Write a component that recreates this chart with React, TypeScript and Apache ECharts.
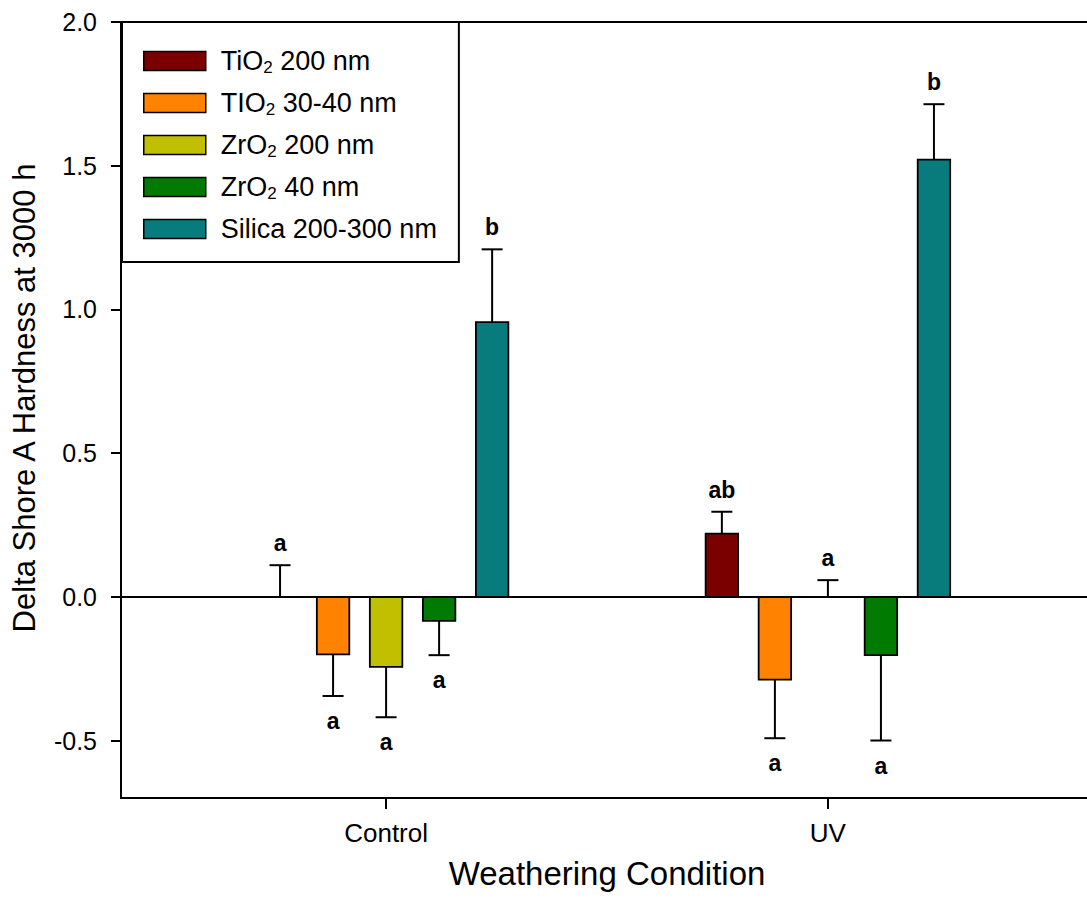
import React, { useEffect, useRef } from 'react';
import * as echarts from 'echarts';

const categories = ['Control', 'UV'];
const seriesNames = ['TiO2 200 nm', 'TIO2 30-40 nm', 'ZrO2 200 nm', 'ZrO2 40 nm', 'Silica 200-300 nm'];
const seriesColors = ['#7a0000', '#ff8300', '#c0c000', '#007a00', '#087b7c'];

const tio2_200 = [0, 0.22];
const tio2_3040 = [-0.2, -0.288];
const zro2_200 = [-0.244, 0];
const zro2_40 = [-0.084, -0.203];
const silica = [0.956, 1.521];

const tio2_200Err = [0.11, 0.076];
const tio2_3040Err = [0.145, 0.204];
const zro2_200Err = [0.175, 0.058];
const zro2_40Err = [0.119, 0.297];
const silicaErr = [0.253, 0.193];

const tio2_200Letters = ['a', 'ab'];
const tio2_3040Letters = ['a', 'a'];
const zro2_200Letters = ['a', 'a'];
const zro2_40Letters = ['a', 'a'];
const silicaLetters = ['b', 'b'];

const yTicks = [-0.5, 0, 0.5, 1.0, 1.5, 2.0];

const allValues = [tio2_200, tio2_3040, zro2_200, zro2_40, silica];
const allErrs = [tio2_200Err, tio2_3040Err, zro2_200Err, zro2_40Err, silicaErr];
const allLetters = [tio2_200Letters, tio2_3040Letters, zro2_200Letters, zro2_40Letters, silicaLetters];

const FONT = 'Liberation Sans, Arial, Helvetica, sans-serif';
const OFFSET = 0.12;
const BAR_W = 0.0735;

export default function App() {
  const ref = useRef<HTMLDivElement>(null);
  useEffect(() => {
    if (!ref.current) return;
    const chart = echarts.init(ref.current, undefined, { renderer: 'svg' });
    const series: any[] = seriesNames.map((name, sIdx) => ({
      type: 'custom',
      name,
      itemStyle: { color: seriesColors[sIdx] },
      clip: false,
      data: categories.map((_, i) => [i, allValues[sIdx][i], allErrs[sIdx][i]]),
      renderItem: (params: any, api: any) => {
        const ci = api.value(0) as number;
        const v = api.value(1) as number;
        const e = api.value(2) as number;
        const letter = allLetters[sIdx][ci];
        const xc = ci + 1 + (sIdx - 2) * OFFSET;
        const p0 = api.coord([xc, 0]);
        const p1 = api.coord([xc, v]);
        const sign = v >= 0 ? 1 : -1;
        const pe = api.coord([xc, v + sign * e]);
        const bw = api.size([BAR_W, 0])[0];
        const children: any[] = [];
        if (v !== 0) {
          children.push({
            type: 'rect',
            shape: { x: p0[0] - bw / 2, y: Math.min(p0[1], p1[1]), width: bw, height: Math.abs(p1[1] - p0[1]) },
            style: { fill: seriesColors[sIdx], stroke: '#000', lineWidth: 1.8 },
          });
        }
        children.push({
          type: 'line',
          shape: { x1: p1[0], y1: p1[1], x2: pe[0], y2: pe[1] },
          style: { stroke: '#000', lineWidth: 2 },
        });
        children.push({
          type: 'line',
          shape: { x1: pe[0] - 10.5, y1: pe[1], x2: pe[0] + 10.5, y2: pe[1] },
          style: { stroke: '#000', lineWidth: 2 },
        });
        children.push({
          type: 'text',
          style: {
            text: letter,
            x: pe[0],
            y: sign > 0 ? pe[1] - 22 : pe[1] + 25,
            align: 'center',
            verticalAlign: 'middle',
            fontSize: 23,
            fontWeight: 'bold',
            fontFamily: FONT,
            fill: '#000',
          },
        });
        return { type: 'group', children };
      },
      markLine: sIdx === 0 ? {
        silent: true,
        symbol: 'none',
        label: { show: false },
        lineStyle: { color: '#000', width: 2, type: 'solid' },
        data: [{ yAxis: 0 }],
      } : undefined,
    }));

    chart.setOption({
      animation: false,
      backgroundColor: '#fff',
      grid: {
        left: 121, top: 22, right: 2, bottom: 101,
        show: true, borderColor: '#000', borderWidth: 2, backgroundColor: 'transparent',
      },
      legend: {
        left: 122, top: 22, orient: 'vertical',
        backgroundColor: '#fff', borderColor: '#000', borderWidth: 2,
        padding: [24, 22, 18, 21],
        itemWidth: 62, itemHeight: 19, itemGap: 12,
        icon: 'rect',
        itemStyle: { borderColor: '#000', borderWidth: 1.5 },
        selectedMode: false,
        formatter: (name: string) => name.replace(/O2/, 'O{sub|2}'),
        textStyle: {
          fontSize: 27, fontFamily: FONT, color: '#000', lineHeight: 30,
          padding: [0, 0, 0, 10],
          rich: {
            sub: { fontSize: 17, fontFamily: FONT, color: '#000', lineHeight: 18, padding: [12, 0, 0, 0] },
          },
        },
        data: seriesNames,
      },
      xAxis: {
        type: 'value', min: 0.4, max: 2.6,
        name: 'Weathering Condition', nameLocation: 'middle', nameGap: 59,
        nameTextStyle: { fontSize: 33, fontFamily: FONT, color: '#000' },
        axisLine: { show: true, onZero: false, lineStyle: { color: '#000', width: 2 } },
        axisTick: { show: true, length: 11, lineStyle: { color: '#000', width: 2 }, customValues: categories.map((_, i) => i + 1) },
        axisLabel: {
          customValues: categories.map((_, i) => i + 1),
          formatter: (v: number) => categories[Math.round(v) - 1] ?? '',
          fontSize: 26, fontFamily: FONT, color: '#000', margin: 22,
        },
        splitLine: { show: false },
      },
      yAxis: {
        type: 'value', min: -0.7, max: 2.0,
        name: 'Delta Shore A Hardness at 3000 h', nameLocation: 'middle', nameGap: 81,
        nameTextStyle: { fontSize: 31, fontFamily: FONT, color: '#000', padding: [0, 0, 0, 24] },
        axisLine: { show: true, onZero: false, lineStyle: { color: '#000', width: 2 } },
        axisTick: { show: true, length: 10, lineStyle: { color: '#000', width: 2 }, customValues: yTicks },
        axisLabel: {
          customValues: yTicks,
          formatter: (v: number) => v.toFixed(1),
          fontSize: 25, fontFamily: FONT, color: '#000', margin: 24,
        },
        splitLine: { show: false },
      },
      series,
    });
    return () => chart.dispose();
  }, []);
  return (
    <div style={{ position: 'fixed', left: 0, top: 0, width: 1087, height: 899, overflow: 'hidden', background: '#fff' }}>
      <div ref={ref} style={{ position: 'absolute', left: 0, top: 0, width: 1095, height: 899 }} />
    </div>
  );
}
